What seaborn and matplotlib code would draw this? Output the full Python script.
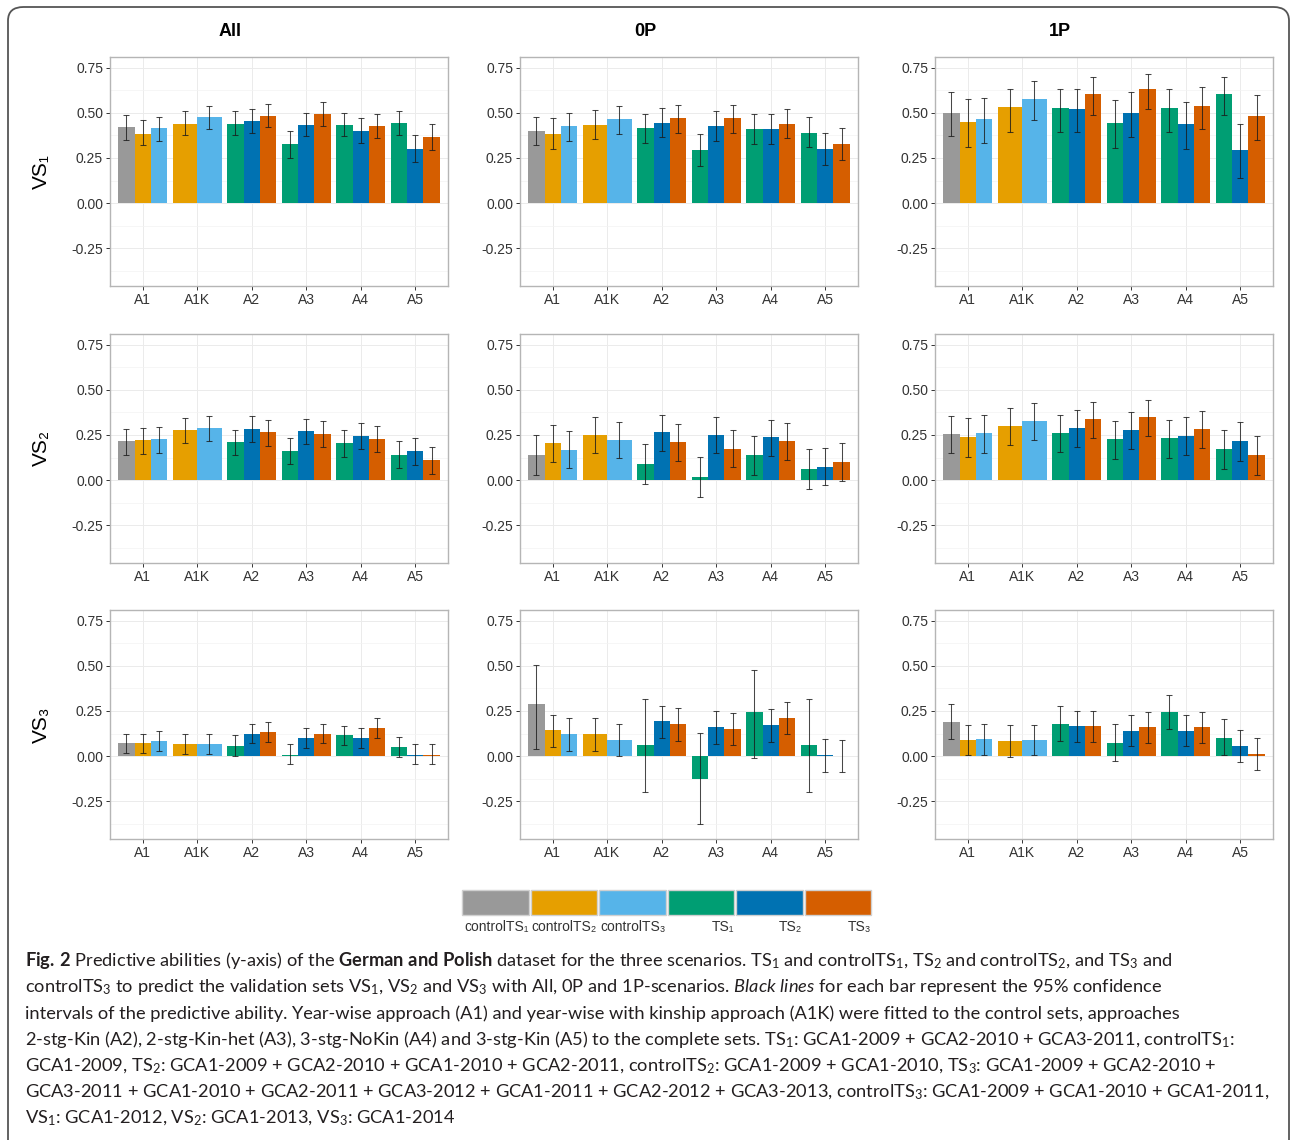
import numpy as np
import pandas as pd
import matplotlib
matplotlib.use("Agg")
import matplotlib.pyplot as plt
import seaborn as sns
from matplotlib.patches import FancyBboxPatch, Rectangle

# ---------------- data ----------------
categories = ["A1", "A1K", "A2", "A3", "A4", "A5"]
sets_A1 = ["controlTS1", "controlTS2", "controlTS3"]
sets_A1K = ["controlTS2", "controlTS3"]
sets_complete = ["TS1", "TS2", "TS3"]

set_keys = ["controlTS1", "controlTS2", "controlTS3", "TS1", "TS2", "TS3"]
legend_labels = ["controlTS₁", "controlTS₂", "controlTS₃", "TS₁", "TS₂", "TS₃"]
set_colors = ["#999999", "#E69F00", "#56B4E9", "#009E73", "#0072B2", "#D55E00"]

scenarios = ["All", "0P", "1P"]
validation_sets = ["VS₁", "VS₂", "VS₃"]

# bar order per panel: A1(cTS1,cTS2,cTS3) A1K(cTS2,cTS3) A2..A5(TS1,TS2,TS3)
VS1_All_est = [0.42, 0.385, 0.415, 0.44, 0.475, 0.44, 0.455, 0.485, 0.325, 0.435, 0.495, 0.435, 0.40, 0.425, 0.445, 0.30, 0.365]
VS1_All_lo = [0.35, 0.32, 0.345, 0.375, 0.41, 0.375, 0.39, 0.42, 0.25, 0.37, 0.43, 0.37, 0.335, 0.36, 0.38, 0.225, 0.295]
VS1_All_hi = [0.49, 0.46, 0.48, 0.51, 0.54, 0.51, 0.52, 0.55, 0.40, 0.50, 0.56, 0.50, 0.47, 0.495, 0.51, 0.375, 0.44]

VS1_0P_est = [0.40, 0.385, 0.425, 0.435, 0.465, 0.415, 0.445, 0.47, 0.295, 0.43, 0.47, 0.41, 0.41, 0.44, 0.39, 0.30, 0.325]
VS1_0P_lo = [0.32, 0.30, 0.345, 0.355, 0.385, 0.335, 0.365, 0.39, 0.205, 0.345, 0.39, 0.33, 0.33, 0.36, 0.31, 0.21, 0.24]
VS1_0P_hi = [0.48, 0.47, 0.50, 0.515, 0.54, 0.495, 0.525, 0.545, 0.385, 0.51, 0.545, 0.495, 0.495, 0.52, 0.475, 0.39, 0.415]

VS1_1P_est = [0.50, 0.45, 0.465, 0.53, 0.575, 0.525, 0.52, 0.605, 0.445, 0.50, 0.63, 0.525, 0.44, 0.54, 0.605, 0.295, 0.485]
VS1_1P_lo = [0.37, 0.31, 0.335, 0.395, 0.46, 0.395, 0.395, 0.49, 0.305, 0.365, 0.52, 0.395, 0.30, 0.41, 0.49, 0.14, 0.35]
VS1_1P_hi = [0.615, 0.575, 0.585, 0.635, 0.675, 0.635, 0.63, 0.70, 0.57, 0.615, 0.715, 0.635, 0.56, 0.645, 0.70, 0.44, 0.60]

VS2_All_est = [0.215, 0.22, 0.225, 0.28, 0.29, 0.21, 0.285, 0.265, 0.16, 0.27, 0.255, 0.205, 0.245, 0.23, 0.14, 0.16, 0.11]
VS2_All_lo = [0.14, 0.145, 0.15, 0.205, 0.215, 0.14, 0.21, 0.19, 0.09, 0.20, 0.185, 0.13, 0.17, 0.155, 0.065, 0.085, 0.035]
VS2_All_hi = [0.285, 0.29, 0.295, 0.345, 0.355, 0.28, 0.355, 0.335, 0.235, 0.34, 0.325, 0.275, 0.315, 0.30, 0.215, 0.235, 0.185]

VS2_0P_est = [0.14, 0.205, 0.165, 0.25, 0.22, 0.09, 0.265, 0.21, 0.015, 0.25, 0.175, 0.14, 0.24, 0.215, 0.06, 0.075, 0.10]
VS2_0P_lo = [0.03, 0.10, 0.065, 0.15, 0.12, -0.02, 0.16, 0.105, -0.095, 0.15, 0.07, 0.03, 0.135, 0.11, -0.05, -0.03, -0.005]
VS2_0P_hi = [0.25, 0.305, 0.27, 0.35, 0.32, 0.20, 0.36, 0.31, 0.13, 0.35, 0.28, 0.245, 0.335, 0.315, 0.17, 0.18, 0.205]

VS2_1P_est = [0.255, 0.24, 0.26, 0.30, 0.325, 0.26, 0.29, 0.34, 0.225, 0.275, 0.35, 0.235, 0.245, 0.285, 0.17, 0.215, 0.14]
VS2_1P_lo = [0.15, 0.13, 0.15, 0.195, 0.22, 0.155, 0.185, 0.235, 0.115, 0.17, 0.245, 0.125, 0.14, 0.18, 0.06, 0.105, 0.03]
VS2_1P_hi = [0.355, 0.345, 0.36, 0.40, 0.425, 0.36, 0.39, 0.435, 0.33, 0.375, 0.445, 0.335, 0.35, 0.385, 0.275, 0.32, 0.245]

VS3_All_est = [0.07, 0.07, 0.085, 0.065, 0.065, 0.055, 0.125, 0.135, 0.005, 0.10, 0.125, 0.115, 0.10, 0.155, 0.05, 0.005, 0.005]
VS3_All_lo = [0.015, 0.015, 0.03, 0.01, 0.01, 0.00, 0.07, 0.08, -0.045, 0.045, 0.07, 0.06, 0.045, 0.10, -0.005, -0.045, -0.045]
VS3_All_hi = [0.125, 0.125, 0.14, 0.12, 0.125, 0.115, 0.18, 0.19, 0.065, 0.155, 0.18, 0.165, 0.155, 0.21, 0.105, 0.065, 0.065]

VS3_0P_est = [0.29, 0.145, 0.12, 0.12, 0.09, 0.06, 0.195, 0.18, -0.125, 0.16, 0.15, 0.245, 0.17, 0.21, 0.06, 0.005, 0.0]
VS3_0P_lo = [0.04, 0.05, 0.03, 0.03, 0.00, -0.20, 0.10, 0.085, -0.375, 0.065, 0.06, -0.01, 0.08, 0.12, -0.20, -0.09, -0.09]
VS3_0P_hi = [0.505, 0.23, 0.21, 0.21, 0.18, 0.315, 0.28, 0.265, 0.13, 0.25, 0.24, 0.475, 0.26, 0.30, 0.315, 0.095, 0.09]

VS3_1P_est = [0.19, 0.09, 0.095, 0.085, 0.09, 0.18, 0.165, 0.165, 0.075, 0.14, 0.16, 0.245, 0.14, 0.16, 0.10, 0.055, 0.01]
VS3_1P_lo = [0.095, 0.005, 0.005, -0.005, 0.005, 0.085, 0.08, 0.08, -0.025, 0.055, 0.075, 0.15, 0.055, 0.075, 0.005, -0.035, -0.075]
VS3_1P_hi = [0.29, 0.175, 0.18, 0.175, 0.175, 0.28, 0.25, 0.25, 0.18, 0.23, 0.245, 0.34, 0.23, 0.245, 0.205, 0.145, 0.10]

panels = {
    (0, 0): (VS1_All_est, VS1_All_lo, VS1_All_hi),
    (0, 1): (VS1_0P_est, VS1_0P_lo, VS1_0P_hi),
    (0, 2): (VS1_1P_est, VS1_1P_lo, VS1_1P_hi),
    (1, 0): (VS2_All_est, VS2_All_lo, VS2_All_hi),
    (1, 1): (VS2_0P_est, VS2_0P_lo, VS2_0P_hi),
    (1, 2): (VS2_1P_est, VS2_1P_lo, VS2_1P_hi),
    (2, 0): (VS3_All_est, VS3_All_lo, VS3_All_hi),
    (2, 1): (VS3_0P_est, VS3_0P_lo, VS3_0P_hi),
    (2, 2): (VS3_1P_est, VS3_1P_lo, VS3_1P_hi),
}

caption_lines = [
    r"$\mathbf{Fig.\,2}$ Predictive abilities (y-axis) of the $\mathbf{German}$ $\mathbf{and}$ $\mathbf{Polish}$ dataset for the three scenarios. TS$_1$ and controlTS$_1$, TS$_2$ and controlTS$_2$, and TS$_3$ and",
    r"controlTS$_3$ to predict the validation sets VS$_1$, VS$_2$ and VS$_3$ with All, 0P and 1P-scenarios. $\mathit{Black}$ $\mathit{lines}$ for each bar represent the 95% confidence",
    r"intervals of the predictive ability. Year-wise approach (A1) and year-wise with kinship approach (A1K) were fitted to the control sets, approaches",
    r"2-stg-Kin (A2), 2-stg-Kin-het (A3), 3-stg-NoKin (A4) and 3-stg-Kin (A5) to the complete sets. TS$_1$: GCA1-2009 + GCA2-2010 + GCA3-2011, controlTS$_1$:",
    r"GCA1-2009, TS$_2$: GCA1-2009 + GCA2-2010 + GCA1-2010 + GCA2-2011, controlTS$_2$: GCA1-2009 + GCA1-2010, TS$_3$: GCA1-2009 + GCA2-2010 +",
    r"GCA3-2011 + GCA1-2010 + GCA2-2011 + GCA3-2012 + GCA1-2011 + GCA2-2012 + GCA3-2013, controlTS$_3$: GCA1-2009 + GCA1-2010 + GCA1-2011,",
    r"VS$_1$: GCA1-2012, VS$_2$: GCA1-2013, VS$_3$: GCA1-2014",
]
# right edges (px) of the caption lines in the reference layout
caption_right = [1248, 1212, 1238, 1262, 1218, 1275]

# ---------------- bar layout (ggplot-like dodge filling each group) ----------------
group_sets = [sets_A1, sets_A1K] + [sets_complete] * 4
bar_cat, bar_set, bar_pos, bar_w = [], [], [], []
for ci, sets in enumerate(group_sets):
    n = len(sets)
    w = 0.9 / n
    for j, s in enumerate(sets):
        bar_cat.append(categories[ci])
        bar_set.append(s)
        bar_pos.append(round(ci - 0.45 + w * (j + 0.5), 6))
        bar_w.append(round(w, 6))

palette = dict(zip(set_keys, set_colors))

# ---------------- style ----------------
sns.set_theme(style="white")
chart_font = ["Liberation Sans", "DejaVu Sans"]
plt.rcParams["font.family"] = chart_font
plt.rcParams["mathtext.fontset"] = "custom"
plt.rcParams["mathtext.rm"] = "Lato"
plt.rcParams["mathtext.it"] = "Lato:italic"
plt.rcParams["mathtext.bf"] = "Lato:bold"

W, H = 1292, 1140
fig = plt.figure(figsize=(W / 100, H / 100), dpi=100)
fig.patch.set_facecolor("white")


def fx(px):
    return px / W


def fy(py):
    return 1 - py / H


col_left = [110, 520, 935]
col_width = 338
row_top = [57, 334, 610]
row_height = 229

for (r, c), (est, lo, hi) in panels.items():
    ax = fig.add_axes([fx(col_left[c]), fy(row_top[r] + row_height), col_width / W, row_height / H])
    df = pd.DataFrame({"cat": bar_cat, "set": bar_set, "pos": bar_pos, "w": bar_w,
                       "est": est, "lo": lo, "hi": hi})
    for _, sub in df.groupby("w"):
        sns.barplot(data=sub, x="pos", y="est", hue="set", palette=palette, native_scale=True,
                    dodge=False, width=1.0, saturation=1, errorbar=None, legend=False,
                    linewidth=0, ax=ax, zorder=2)
    ax.errorbar(df["pos"], df["est"], yerr=[df["est"] - df["lo"], df["hi"] - df["est"]],
                fmt="none", ecolor=(0.1, 0.1, 0.1, 0.8), elinewidth=0.75, capsize=2.2,
                capthick=0.75, zorder=3)
    ax.set_xlim(-0.6, 5.6)
    ax.set_ylim(-0.46, 0.81)
    ax.set_xticks(range(len(categories)))
    ax.set_xticklabels(categories)
    yt = [-0.25, 0.0, 0.25, 0.5, 0.75]
    ax.set_yticks(yt)
    ax.set_yticklabels([f"{v:.2f}" for v in yt])
    ax.set_yticks([-0.375, -0.125, 0.125, 0.375, 0.625], minor=True)
    ax.grid(which="major", color="#EBEBEB", linewidth=0.7, zorder=0)
    ax.grid(which="minor", axis="y", color="#F3F3F3", linewidth=0.5, zorder=0)
    ax.set_axisbelow(True)
    ax.set_xlabel("")
    ax.set_ylabel("")
    for sp in ax.spines.values():
        sp.set_color("#B5B5B5")
        sp.set_linewidth(1.0)
    ax.tick_params(which="major", length=3, width=0.7, color="#333333", labelsize=10,
                   labelcolor="#333333", pad=2, left=True, bottom=True)
    ax.tick_params(which="minor", length=0)

# column titles
for c, (title, xp) in enumerate(zip(scenarios, [230, 645, 1060])):
    fig.text(fx(xp), fy(32), title, ha="center", va="center", fontsize=13,
             fontweight="bold", color="black")

# row labels
for r, lab in enumerate(validation_sets):
    fig.text(fx(41), fy(row_top[r] + row_height / 2), lab, ha="center", va="center",
             fontsize=15, rotation=90, color="black")

# legend
key_w, key_gap = 66.5, 2.0
leg_x0, key_top, key_h = 462, 890, 25
for i, (lab, col) in enumerate(zip(legend_labels, set_colors)):
    x0 = leg_x0 + i * (key_w + key_gap)
    fig.patches.append(Rectangle((fx(x0), fy(key_top + key_h)), key_w / W, key_h / H,
                                 transform=fig.transFigure, facecolor=col,
                                 edgecolor="#D0D0D0", linewidth=1.0))
    fig.text(fx(x0 + key_w), fy(927), lab, ha="right", va="center", fontsize=10,
             color="#333333")

# outer rounded frame
fig.patches.append(FancyBboxPatch((fx(8), fy(1160)), (1289 - 8) / W, (1160 - 7) / H,
                                  boxstyle="round,pad=0,rounding_size=0.012",
                                  transform=fig.transFigure, facecolor="none",
                                  edgecolor="#555555", linewidth=1.3, zorder=0))

# caption
cap_font = "Lato"
texts = []
for i, line in enumerate(caption_lines):
    t = fig.text(fx(25), fy(966 + i * 26.3), line, ha="left", va="baseline",
                 fontsize=12, family=cap_font, color="#231F20")
    texts.append(t)
renderer = fig.canvas.get_renderer()
scale = min((right - 25) / texts[i].get_window_extent(renderer).width
            for i, right in enumerate(caption_right))
for t in texts:
    t.set_fontsize(12 * scale)

fig.savefig("out.png", dpi=100)
